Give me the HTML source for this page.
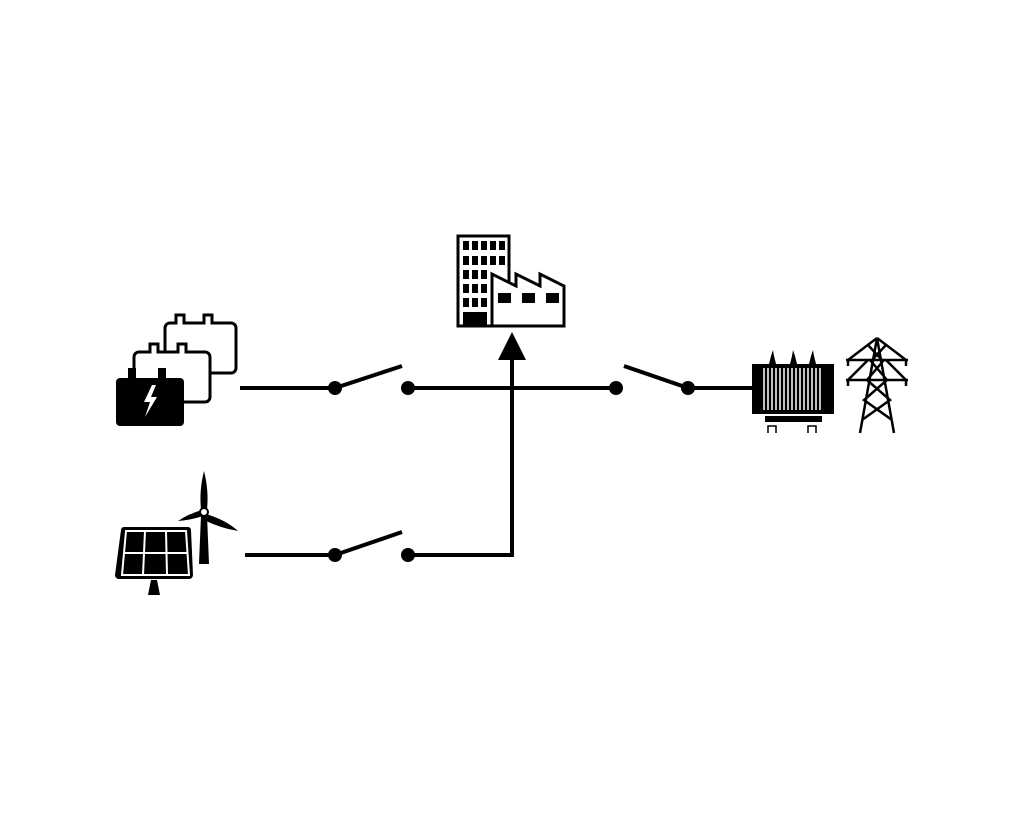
<!DOCTYPE html>
<html><head><style>body{margin:0;background:#fff}svg{display:block}</style></head><body>
<svg width="1024" height="830" viewBox="0 0 1024 830" xmlns="http://www.w3.org/2000/svg">
<rect width="1024" height="830" fill="#fff"/>
<g stroke="#000" stroke-width="4" fill="none" stroke-linecap="butt">
<line x1="240" y1="388" x2="335" y2="388"/>
<line x1="335" y1="388" x2="402" y2="366"/>
<line x1="408" y1="388" x2="616" y2="388"/>
<line x1="624" y1="366" x2="688" y2="388"/>
<line x1="688" y1="388" x2="754" y2="388"/>
<line x1="245" y1="555" x2="335" y2="555"/>
<line x1="335" y1="555" x2="402" y2="532"/>
<polyline points="408,555 512,555 512,356"/>
</g>
<polygon points="498,360 526,360 512,332" fill="#000"/>
<g fill="#000">
<circle cx="335" cy="388" r="7"/><circle cx="408" cy="388" r="7"/>
<circle cx="616" cy="388" r="7"/><circle cx="688" cy="388" r="7"/>
<circle cx="335" cy="555" r="7"/><circle cx="408" cy="555" r="7"/>
</g>
<!-- batteries -->
<g stroke="#000" stroke-width="3" fill="#fff">
<path d="M176,323 v-8 h8 v8 h20 v-8 h8 v8 h19 a5,5 0 0 1 5,5 v40 a5,5 0 0 1 -5,5 h-61 a5,5 0 0 1 -5,-5 v-40 a5,5 0 0 1 5,-5 z"/>
<path d="M150,352 v-8 h8 v8 h20 v-8 h8 v8 h19 a5,5 0 0 1 5,5 v40 a5,5 0 0 1 -5,5 h-66 a5,5 0 0 1 -5,-5 v-40 a5,5 0 0 1 5,-5 z"/>
</g>
<path d="M120,378 h8 v-10 h8 v10 h22 v-10 h8 v10 h14 a4,4 0 0 1 4,4 v40 a4,4 0 0 1 -4,4 h-60 a4,4 0 0 1 -4,-4 v-40 a4,4 0 0 1 4,-4 z" fill="#000"/>
<polygon points="152,385 144,402 150,402 145,417 157,397 151,397 156,385" fill="#fff"/>
<!-- solar -->
<path d="M124,527 h64 a3,3 0 0 1 3,3 l2,45 a4,4 0 0 1 -4,4 h-70 a4,4 0 0 1 -4,-4 l6,-45 a3,3 0 0 1 3,-3z" fill="#000"/>
<g stroke="#fff" stroke-width="2" fill="none">
<path d="M126,531 h60 l3,44 h-67 z"/>
<line x1="124" y1="553" x2="188" y2="553"/>
<line x1="145" y1="531" x2="143" y2="575"/>
<line x1="166" y1="531" x2="167" y2="575"/>
</g>
<polygon points="151,580 157,580 160,595 148,595" fill="#000"/>
<!-- wind -->
<polygon points="201,515 207,515 209,564 199,564" fill="#000"/>
<path d="M204,471 q5,20 3,38 h-6 q-2,-18 3,-38z" fill="#000"/>
<path d="M206,514 q20,6 32,17 q-18,-3 -34,-11z" fill="#000"/>
<path d="M202,510 q-14,4 -24,11 q13,-1 25,-5z" fill="#000"/>
<circle cx="204" cy="512" r="4" fill="#fff" stroke="#000" stroke-width="2"/>
<!-- building -->
<rect x="458" y="236" width="51" height="90" fill="#fff" stroke="#000" stroke-width="3"/>
<g fill="#000">
<rect x="463" y="241" width="6" height="9"/><rect x="472" y="241" width="6" height="9"/><rect x="481" y="241" width="6" height="9"/><rect x="490" y="241" width="6" height="9"/><rect x="499" y="241" width="6" height="9"/>
<rect x="463" y="256" width="6" height="9"/><rect x="472" y="256" width="6" height="9"/><rect x="481" y="256" width="6" height="9"/><rect x="490" y="256" width="6" height="9"/><rect x="499" y="256" width="6" height="9"/>
<rect x="463" y="270" width="6" height="9"/><rect x="472" y="270" width="6" height="9"/><rect x="481" y="270" width="6" height="9"/>
<rect x="463" y="284" width="6" height="9"/><rect x="472" y="284" width="6" height="9"/><rect x="481" y="284" width="6" height="9"/>
<rect x="463" y="298" width="6" height="9"/><rect x="472" y="298" width="6" height="9"/><rect x="481" y="298" width="6" height="9"/>
<rect x="463" y="312" width="24" height="13"/>
</g>
<path d="M492,326 v-52 l24,12 v-12 l24,12 v-12 l24,12 v40 z" fill="#fff" stroke="#000" stroke-width="3"/>
<g fill="#000"><rect x="498" y="293" width="13" height="10"/><rect x="522" y="293" width="13" height="10"/><rect x="546" y="293" width="13" height="10"/></g>
<!-- transformer -->
<rect x="752" y="364" width="82" height="50" fill="#000"/>
<g stroke="#fff" stroke-width="1.5">
<line x1="764" y1="368" x2="764" y2="410"/><line x1="768" y1="368" x2="768" y2="410"/><line x1="772" y1="368" x2="772" y2="410"/><line x1="776" y1="368" x2="776" y2="410"/><line x1="780" y1="368" x2="780" y2="410"/><line x1="784" y1="368" x2="784" y2="410"/><line x1="788" y1="368" x2="788" y2="410"/><line x1="792" y1="368" x2="792" y2="410"/><line x1="796" y1="368" x2="796" y2="410"/><line x1="800" y1="368" x2="800" y2="410"/><line x1="804" y1="368" x2="804" y2="410"/><line x1="808" y1="368" x2="808" y2="410"/><line x1="812" y1="368" x2="812" y2="410"/><line x1="816" y1="368" x2="816" y2="410"/><line x1="820" y1="368" x2="820" y2="410"/>
</g>
<g fill="#000">
<polygon points="769,364 776,364 774,356 773,350 771,356"/>
<polygon points="790,364 797,364 795,356 793,350 792,356"/>
<polygon points="809,364 816,364 814,356 813,350 811,356"/>
<rect x="765" y="416" width="57" height="6"/>
</g>
<g stroke="#000" stroke-width="1.5" fill="none">
<path d="M768,433 v-7 h8 v7"/><path d="M808,433 v-7 h8 v7"/>
</g>
<!-- tower -->
<g stroke="#000" stroke-width="2.5" fill="none">
<path d="M877,338 L860,433 M877,338 L894,433"/>
<path d="M846,360 L908,360 M846,380 L908,380"/>
<path d="M877,338 L848,360 M877,338 L906,360 M868,360 L848,380 M886,360 L906,380"/>
<path d="M870,360 L887,380 L864,400 L892,420 M884,360 L867,380 L890,400 L862,420 M868,345 L882,360 M886,345 L872,360"/>
<line x1="848" y1="360" x2="848" y2="366"/><line x1="906" y1="360" x2="906" y2="366"/>
<line x1="848" y1="380" x2="848" y2="386"/><line x1="906" y1="380" x2="906" y2="386"/>
</g>
</svg>
</body></html>
